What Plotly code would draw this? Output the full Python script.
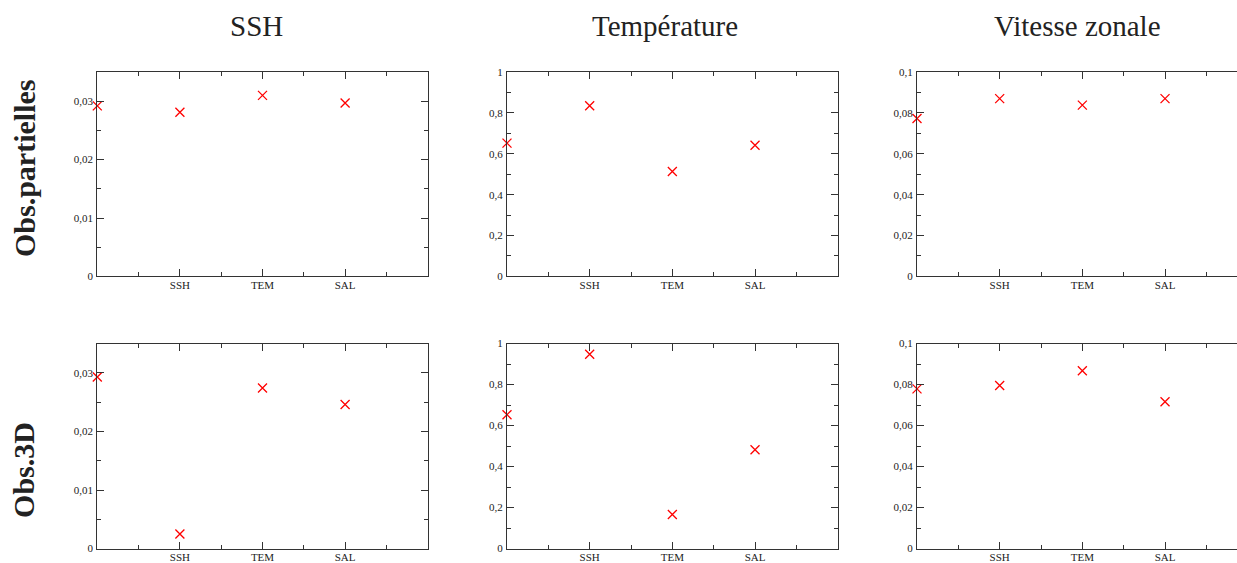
import plotly.graph_objects as go

# ---- data ----
x_pos = [0, 1, 2, 3]
x_tick_vals = [1, 2, 3]
x_tick_text = ["SSH", "TEM", "SAL"]

col_titles = ["SSH", "Température", "Vitesse zonale"]
row_titles = ["Obs.partielles", "Obs.3D"]

partial_ssh = [0.0292, 0.0281, 0.0310, 0.0297]
partial_temp = [0.652, 0.835, 0.513, 0.642]
partial_u = [0.0773, 0.0870, 0.0838, 0.0870]
full_ssh = [0.0293, 0.0025, 0.0274, 0.0246]
full_temp = [0.653, 0.948, 0.166, 0.482]
full_u = [0.0779, 0.0795, 0.0867, 0.0716]

ssh_ticks = [0, 0.01, 0.02, 0.03]
ssh_ticktext = ["0", "0,01", "0,02", "0,03"]
temp_ticks = [0, 0.2, 0.4, 0.6, 0.8, 1.0]
temp_ticktext = ["0", "0,2", "0,4", "0,6", "0,8", "1"]
u_ticks = [0, 0.02, 0.04, 0.06, 0.08, 0.1]
u_ticktext = ["0", "0,02", "0,04", "0,06", "0,08", "0,1"]

# ---- layout geometry ----
W, H = 1237, 563


def py(px):
    """pixel row (from top) -> paper y, with a small empirical correction"""
    return 1 - ((px - 3.3) / 0.978) / H


col_px = [(97.3, 427.7), (507.0, 837.7), (917.0, 1237.0)]
row_px = [(70.0, 276.5), (344.3, 551.5)]
x_ranges = [[0, 4], [0, 4], [0, (1237.0 - 917.0) / ((837.7 - 507.0) / 4)]]
y_specs = [
    ([0, 0.035], ssh_ticks, ssh_ticktext, 0.005),
    ([0, 1.0], temp_ticks, temp_ticktext, 0.1),
    ([0, 0.1], u_ticks, u_ticktext, 0.01),
]
data_grid = [[partial_ssh, partial_temp, partial_u],
             [full_ssh, full_temp, full_u]]

AX = "#333333"
tickfont = dict(family="Liberation Serif", size=11, color="#222222")

fig = go.Figure()
layout = {}
idx = 0
for r in range(2):
    for c in range(3):
        idx += 1
        sfx = "" if idx == 1 else str(idx)
        fig.add_trace(go.Scatter(
            x=x_pos, y=data_grid[r][c], mode="markers",
            marker=dict(symbol="x-thin", size=9, color="red",
                        line=dict(color="red", width=1.3)),
            cliponaxis=False, showlegend=False,
            xaxis="x" + sfx, yaxis="y" + sfx))
        x0, x1 = col_px[c]
        y0, y1 = row_px[r]
        yr, yt, ytt, ymin = y_specs[c]
        layout["xaxis" + sfx] = dict(
            domain=[x0 / W, x1 / W], range=x_ranges[c], anchor="y" + sfx,
            showline=True, linecolor=AX, linewidth=1,
            mirror="ticks", ticks="inside", ticklen=7, tickcolor=AX,
            tickvals=x_tick_vals, ticktext=x_tick_text, tickfont=tickfont,
            ticklabelstandoff=-2,
            minor=dict(tickvals=[0.5, 1.5, 2.5, 3.5], ticks="inside",
                       ticklen=4, tickcolor=AX),
            showgrid=False, zeroline=False, fixedrange=True)
        layout["yaxis" + sfx] = dict(
            domain=[py(y1), py(y0)], range=yr, anchor="x" + sfx,
            showline=True, linecolor=AX, linewidth=1,
            mirror=("ticks" if c < 2 else False),
            ticks="inside", ticklen=7, tickcolor=AX,
            tickvals=yt, ticktext=ytt, tickfont=tickfont,
            ticklabelstandoff=1,
            minor=dict(dtick=ymin, tick0=0, ticks="inside",
                       ticklen=4, tickcolor=AX),
            showgrid=False, zeroline=False, fixedrange=True)

annotations = []
title_x = [256, 665, 1077]
for t, xc in zip(col_titles, title_x):
    annotations.append(dict(
        text=t, x=xc / W, y=py(24), xref="paper", yref="paper",
        showarrow=False, xanchor="center", yanchor="middle",
        font=dict(family="Liberation Serif", size=29, color="#222222")))
row_y = [167, 472]
for t, yc in zip(row_titles, row_y):
    annotations.append(dict(
        text="<b>" + t + "</b>", x=24 / W, y=py(yc),
        xref="paper", yref="paper", textangle=-90,
        showarrow=False, xanchor="center", yanchor="middle",
        font=dict(family="Liberation Serif", size=30, color="#222222")))

fig.update_layout(
    width=W, height=H, margin=dict(l=0, r=0, t=0, b=0),
    paper_bgcolor="white", plot_bgcolor="white",
    annotations=annotations, **layout)

fig.write_html(
    "out.html",
    config={"displayModeBar": False},
    post_script="document.body.style.margin='0';"
                "document.body.style.overflow='hidden';"
                "document.documentElement.style.overflow='hidden';")
